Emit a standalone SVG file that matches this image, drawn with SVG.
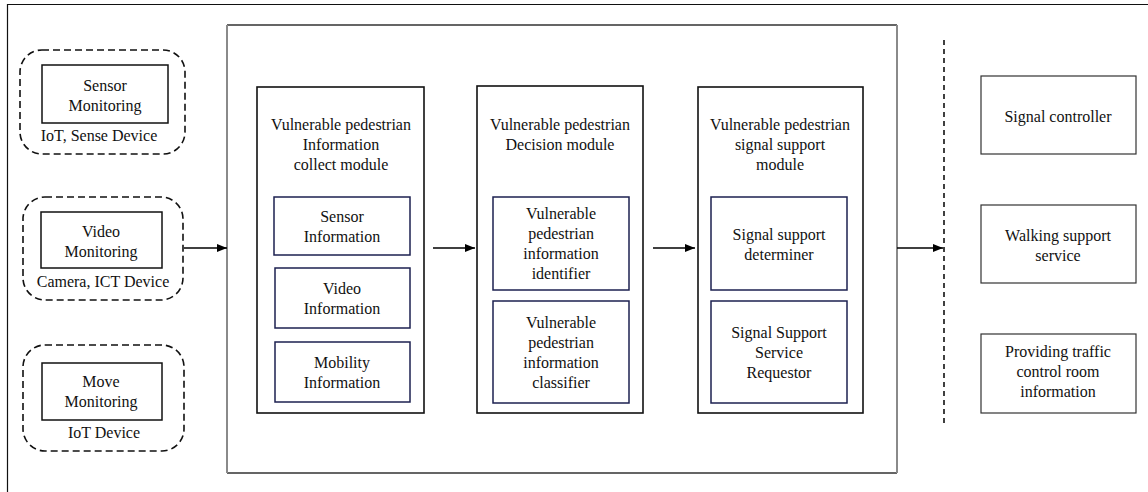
<svg xmlns="http://www.w3.org/2000/svg" width="1148" height="492" viewBox="0 0 1148 492">
<defs>
<marker id="ah" markerWidth="10" markerHeight="8" refX="10" refY="4" orient="auto" markerUnits="userSpaceOnUse">
<path d="M0,0 L10,4 L0,8 Z" fill="#000"/>
</marker>
<style>
text{font-family:"Liberation Serif","Times New Roman",serif;font-size:16px;fill:#111;text-anchor:middle}
.dash{fill:none;stroke:#111;stroke-width:1.6;stroke-dasharray:7 4}
.solid{fill:#fff;stroke:#111;stroke-width:1.5}
.navy{fill:#fff;stroke:#1c2150;stroke-width:1.5}
.mod{fill:#fff;stroke:#111;stroke-width:1.6}
.rbox{fill:#fff;stroke:#333;stroke-width:1.2}
.conn{stroke:#000;stroke-width:1.5;fill:none}
</style>
</defs>
<rect width="1148" height="492" fill="#fff"/>
<path d="M7.5,492 V4.5 H1148" fill="none" stroke="#111" stroke-width="1.2"/>

<g id="sensor-monitoring">
<rect class="dash" x="20" y="50" width="165" height="104" rx="22"/>
<rect class="solid" x="42" y="65" width="126" height="58"/>
<text x="105" y="91">Sensor</text>
<text x="105" y="111">Monitoring</text>
<text x="99" y="141">IoT, Sense Device</text>
</g>
<g id="video-monitoring">
<rect class="dash" x="23" y="197" width="160" height="103" rx="22"/>
<rect class="solid" x="41" y="212" width="121" height="56"/>
<text x="101" y="237">Video</text>
<text x="101" y="257">Monitoring</text>
<text x="103" y="287">Camera, ICT Device</text>
</g>
<g id="move-monitoring">
<rect class="dash" x="23" y="345" width="161" height="106" rx="22"/>
<rect class="solid" x="42" y="363" width="120" height="57"/>
<text x="101" y="387">Move</text>
<text x="101" y="407">Monitoring</text>
<text x="104" y="438">IoT Device</text>
</g>

<g id="system-box">
<path d="M227,25 H897 M227,473 H897" stroke="#333" stroke-width="1.6" fill="none"/>
<path d="M227,25 V473 M897,25 V473" stroke="#8a8a8a" stroke-width="2" fill="none"/>
</g>

<g id="collect-module">
<rect class="mod" x="257" y="87" width="167" height="326"/>
<text x="341" y="130">Vulnerable pedestrian</text>
<text x="341" y="150">Information</text>
<text x="341" y="170">collect module</text>
</g>
<g id="sensor-information">
<rect class="navy" x="274" y="197" width="136" height="58"/>
<text x="342" y="222">Sensor</text>
<text x="342" y="242">Information</text>
</g>
<g id="video-information">
<rect class="navy" x="275" y="268" width="135" height="60"/>
<text x="342" y="294">Video</text>
<text x="342" y="314">Information</text>
</g>
<g id="mobility-information">
<rect class="navy" x="275" y="342" width="135" height="60"/>
<text x="342" y="368">Mobility</text>
<text x="342" y="388">Information</text>
</g>

<g id="decision-module">
<rect class="mod" x="477" y="86" width="166" height="327"/>
<text x="560" y="130">Vulnerable pedestrian</text>
<text x="560" y="150">Decision module</text>
</g>
<g id="identifier">
<rect class="navy" x="493" y="197" width="136" height="93"/>
<text x="561" y="219">Vulnerable</text>
<text x="561" y="239">pedestrian</text>
<text x="561" y="259">information</text>
<text x="561" y="279">identifier</text>
</g>
<g id="classifier">
<rect class="navy" x="493" y="301" width="136" height="102"/>
<text x="561" y="328">Vulnerable</text>
<text x="561" y="348">pedestrian</text>
<text x="561" y="368">information</text>
<text x="561" y="388">classifier</text>
</g>

<g id="signal-support-module">
<rect class="mod" x="698" y="87" width="165" height="326"/>
<text x="780" y="130">Vulnerable pedestrian</text>
<text x="780" y="150">signal support</text>
<text x="780" y="170">module</text>
</g>
<g id="determiner">
<rect class="navy" x="711" y="197" width="136" height="93"/>
<text x="779" y="240">Signal support</text>
<text x="779" y="260">determiner</text>
</g>
<g id="requestor">
<rect class="navy" x="711" y="301" width="136" height="102"/>
<text x="779" y="338">Signal Support</text>
<text x="779" y="358">Service</text>
<text x="779" y="378">Requestor</text>
</g>

<g id="boundary">
<line x1="944" y1="40" x2="944" y2="427" stroke="#111" stroke-width="1.6" stroke-dasharray="5 4"/>
</g>

<g id="signal-controller">
<rect class="rbox" x="981" y="76" width="155" height="78"/>
<text x="1058" y="122">Signal controller</text>
</g>
<g id="walking-support">
<rect class="rbox" x="981" y="205" width="155" height="78"/>
<text x="1058" y="241">Walking support</text>
<text x="1058" y="261">service</text>
</g>
<g id="traffic-control">
<rect class="rbox" x="981" y="334" width="155" height="79"/>
<text x="1058" y="357">Providing traffic</text>
<text x="1058" y="377">control room</text>
<text x="1058" y="397">information</text>
</g>

<g id="connectors">
<line class="conn" x1="184" y1="248" x2="227" y2="248" marker-end="url(#ah)"/>
<line class="conn" x1="433" y1="248" x2="475" y2="248" marker-end="url(#ah)"/>
<line class="conn" x1="653" y1="248" x2="695" y2="248" marker-end="url(#ah)"/>
<line class="conn" x1="897" y1="248" x2="943" y2="248" marker-end="url(#ah)"/>
</g>
</svg>
